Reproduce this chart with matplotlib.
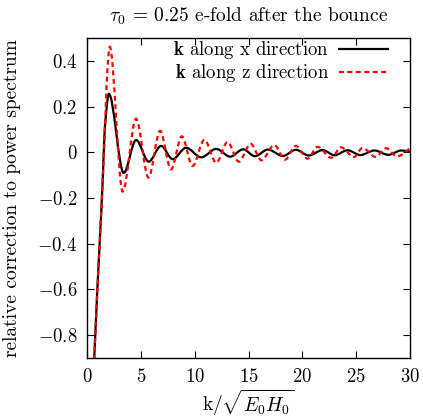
import numpy as np
import matplotlib
matplotlib.use("Agg")
import matplotlib.pyplot as plt
from matplotlib.path import Path
from matplotlib.patches import PathPatch
from matplotlib.lines import Line2D

plt.rcParams['font.family'] = 'cmr10'
plt.rcParams['mathtext.fontset'] = 'cm'
plt.rcParams['axes.unicode_minus'] = False
plt.rcParams['axes.formatter.use_mathtext'] = True

# Key points (rise, then peaks and troughs)
x_along_x = [0.55, 0.93, 1.14, 1.45, 1.6, 1.7, 2.02, 3.4, 4.55, 5.72, 6.87, 7.95, 9.2, 10.6,
             12.0, 13.3, 14.5, 15.6, 16.8, 18.2, 19.4, 20.6, 21.9, 23.0, 24.2, 25.4,
             26.7, 28.0, 29.2, 30.0]
y_along_x = [-1.02, -0.62, -0.42, -0.12, 0.066, 0.14, 0.256, -0.09, 0.054, -0.041, 0.028, -0.03,
             0.02, -0.022, 0.015, -0.019, 0.013, -0.017, 0.012, -0.016, 0.011, -0.014, 0.01,
             -0.013, 0.009, -0.012, 0.008, -0.011, 0.008, 0.003]

x_along_z = [0.55, 0.93, 1.14, 1.45, 1.7, 1.88, 2.1, 3.3, 4.55, 5.7, 6.78, 7.8, 8.8, 9.8,
             10.9, 12.0, 13.05, 14.1, 15.2, 16.2, 17.4, 18.4, 19.4, 20.5, 21.4, 22.7,
             23.6, 24.8, 25.6, 26.8, 27.8, 28.8, 30.0]
y_along_z = [-1.02, -0.62, -0.42, -0.12, 0.16, 0.36, 0.462, -0.172, 0.147, -0.111, 0.094, -0.075,
             0.07, -0.06, 0.055, -0.046, 0.045, -0.041, 0.037, -0.035, 0.032, -0.032, 0.028,
             -0.028, 0.024, -0.024, 0.022, -0.021, 0.019, -0.02, 0.018, -0.018, 0.016]

x_ticks = [0, 5, 10, 15, 20, 25, 30]
y_ticks = [-0.8, -0.6, -0.4, -0.2, 0, 0.2, 0.4]
y_tick_labels = [r'$-0.8$', r'$-0.6$', r'$-0.4$', r'$-0.2$', r'$0$', r'$0.2$', r'$0.4$']


def smooth_path(xs, ys):
    """Bezier path through the points, flat at the peaks and troughs."""
    xs = np.asarray(xs, float)
    ys = np.asarray(ys, float)
    d = np.diff(ys) / np.diff(xs)
    m = np.zeros(len(xs))
    m[0] = d[0]
    m[-1] = d[-1]
    for i in range(1, len(xs) - 1):
        if d[i - 1] * d[i] > 0:
            m[i] = 2.0 / (1.0 / d[i - 1] + 1.0 / d[i])
    verts = [(xs[0], ys[0])]
    codes = [Path.MOVETO]
    for i in range(len(xs) - 1):
        h = xs[i + 1] - xs[i]
        verts += [(xs[i] + h / 3, ys[i] + m[i] * h / 3),
                  (xs[i + 1] - h / 3, ys[i + 1] - m[i + 1] * h / 3),
                  (xs[i + 1], ys[i + 1])]
        codes += [Path.CURVE4] * 3
    return Path(verts, codes)


fig = plt.figure(figsize=(4.23, 4.19), dpi=100)
ax = fig.add_axes([0.206, 0.146, 0.763, 0.763])

dash = (0, (2.2, 1.6))
ax.add_patch(PathPatch(smooth_path(x_along_x, y_along_x), fill=False,
                       edgecolor='black', linewidth=1.6, zorder=3))
ax.add_patch(PathPatch(smooth_path(x_along_z, y_along_z), fill=False,
                       edgecolor='red', linewidth=1.6, linestyle=dash, zorder=4))

ax.set_xlim(0, 30)
ax.set_ylim(-0.9, 0.5)
ax.set_xticks(x_ticks)
ax.set_xticklabels([r'$%d$' % t for t in x_ticks])
ax.set_yticks(y_ticks)
ax.set_yticklabels(y_tick_labels)
ax.tick_params(direction='in', top=True, right=True, length=5, width=0.8,
               labelsize=13.5, pad=7)
for s in ax.spines.values():
    s.set_linewidth(1.0)

ax.set_title(r'$\tau_0$ = 0.25 e-fold after the bounce', fontsize=14, pad=12)
ax.set_xlabel(r'k/$\sqrt{E_0 H_0}$', fontsize=14, labelpad=1)
ax.set_ylabel('relative correction to power spectrum', fontsize=14, labelpad=12)

handles = [Line2D([], [], color='black', lw=1.6),
           Line2D([], [], color='red', lw=1.6, ls=dash)]
ax.legend(handles, [r'$\mathbf{k}$ along x direction', r'$\mathbf{k}$ along z direction'],
          loc='upper right', bbox_to_anchor=(0.955, 1.02), frameon=False,
          markerfirst=False, fontsize=13.5, handlelength=2.6, handletextpad=0.55,
          borderaxespad=0.0, labelspacing=0.05)

fig.savefig('out.png', dpi=100)
